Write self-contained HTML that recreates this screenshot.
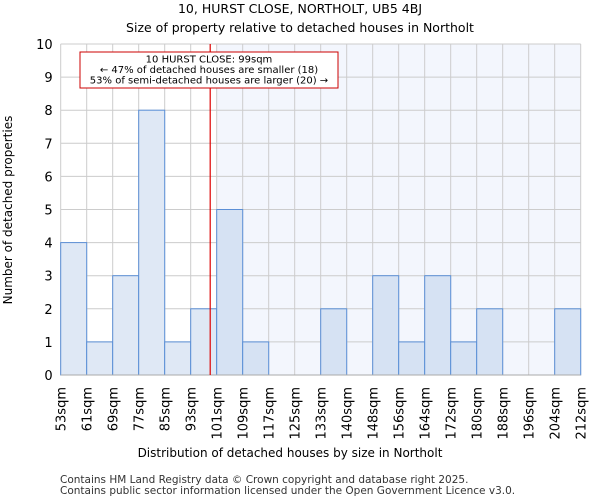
<!DOCTYPE html>
<html><head><meta charset="utf-8"><style>
body{margin:0;background:#fff;font-family:"DejaVu Sans","Liberation Sans",sans-serif}
</style></head><body>
<svg id="c" width="600" height="500" xmlns="http://www.w3.org/2000/svg" font-family="DejaVu Sans, Liberation Sans, sans-serif">
<text x="300" y="13" text-anchor="middle" font-size="12.5">10, HURST CLOSE, NORTHOLT, UB5 4BJ</text>
<text x="300" y="32" text-anchor="middle" font-size="12.5">Size of property relative to detached houses in Northolt</text>
<g id="plot"></g>
<text x="290" y="457" text-anchor="middle" font-size="12">Distribution of detached houses by size in Northolt</text>
<text transform="translate(12,210) rotate(-90)" text-anchor="middle" font-size="12">Number of detached properties</text>
<text x="60" y="483" font-size="10.5" fill="#333">Contains HM Land Registry data © Crown copyright and database right 2025.</text>
<text x="60" y="494" font-size="10.5" fill="#333">Contains public sector information licensed under the Open Government Licence v3.0.</text>
</svg>
<script>
const binLabels=["53sqm","61sqm","69sqm","77sqm","85sqm","93sqm","101sqm","109sqm","117sqm","125sqm","133sqm","140sqm","148sqm","156sqm","164sqm","172sqm","180sqm","188sqm","196sqm","204sqm","212sqm"];
const counts=[4,1,3,8,1,2,5,1,0,0,2,0,3,1,3,1,2,0,0,2];
const yTicks=[0,1,2,3,4,5,6,7,8,9,10];
const markerBinPos=5.75;
const X0=60.7,X1=580.7,Y0=375,Y1=44;
const nb=counts.length;
const xs=i=>X0+(X1-X0)*i/nb;
const ys=v=>Y0-(Y0-Y1)*v/10;
const ns="http://www.w3.org/2000/svg";
const g=document.getElementById('plot');
function mk(t,a){const e=document.createElementNS(ns,t);for(const k in a)e.setAttribute(k,a[k]);g.appendChild(e);return e;}
const mx=xs(markerBinPos);
let sh=mk('rect',{x:xs(6),y:Y1,width:X1-xs(6),height:Y0-Y1,fill:'#f3f6fd'});


for(let i=0;i<=nb;i++){let l=mk('line',{x1:xs(i),x2:xs(i),y1:Y1,y2:Y0,stroke:'#ccc','stroke-width':1});

}
yTicks.forEach(v=>{let l=mk('line',{x1:X0,x2:X1,y1:ys(v),y2:ys(v),stroke:'#ccc','stroke-width':1});


let t=mk('text',{x:X0-8,y:ys(v)+5,'text-anchor':'end','font-size':13});t.textContent=v;

});
counts.forEach((c,i)=>{if(c<=0)return;let r=mk('rect',{x:xs(i),y:ys(c),width:xs(i+1)-xs(i),height:Y0-ys(c),fill:i>=6?'#d6e2f3':'#dfe8f5',stroke:'#5b8fd6','stroke-width':1});

});
binLabels.forEach((s,i)=>{let t=mk('text',{transform:`translate(${xs(i)+5},${Y0+12}) rotate(-90)`,'text-anchor':'end','font-size':13});t.textContent=s;

});
let ax=mk('line',{x1:X0,x2:X1,y1:Y0,y2:Y0,stroke:'#aaa','stroke-width':1});


let ml=mk('line',{x1:mx,x2:mx,y1:Y1,y2:Y0,stroke:'#d00','stroke-width':1.2});


let bx=mk('rect',{x:80,y:52,width:258,height:36,fill:'#fff',stroke:'#c00','stroke-width':1});


["10 HURST CLOSE: 99sqm","← 47% of detached houses are smaller (18)","53% of semi-detached houses are larger (20) →"].forEach((s,i)=>{let t=mk('text',{x:209,y:62.5+i*10.5,'text-anchor':'middle','font-size':10});t.textContent=s;

});
</script>
</body></html>
